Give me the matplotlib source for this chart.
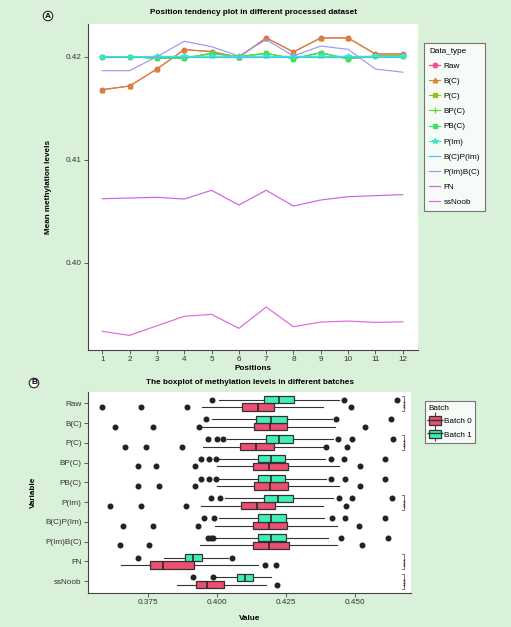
import numpy as np
import matplotlib
matplotlib.use("Agg")
import matplotlib.pyplot as plt
from matplotlib.patches import Patch
from matplotlib.lines import Line2D

# ---------- panel A data ----------
positions = np.arange(1, 13)
series_names = ["Raw", "B(C)", "P(C)", "BP(C)", "PB(C)", "P(Im)",
                "B(C)P(Im)", "P(Im)B(C)", "FN", "ssNoob"]
raw = [0.4168, 0.41715, 0.4188, 0.42068, 0.42049, 0.41994, 0.42182, 0.42046, 0.42182, 0.42182, 0.42026, 0.42026]
b_c = [0.4168, 0.41715, 0.4188, 0.42068, 0.42049, 0.41994, 0.42182, 0.42046, 0.42182, 0.42182, 0.42026, 0.42026]
p_c = [0.4200, 0.4200, 0.41984, 0.41984, 0.42033, 0.4200, 0.42033, 0.41981, 0.42039, 0.41978, 0.42007, 0.42007]
bp_c = [0.4200, 0.4200, 0.41984, 0.41984, 0.42033, 0.4200, 0.42033, 0.41981, 0.42039, 0.41978, 0.42007, 0.42007]
pb_c = [0.4200, 0.4200, 0.41984, 0.41984, 0.42030, 0.4200, 0.42030, 0.41981, 0.42036, 0.41978, 0.42007, 0.42007]
p_im = [0.4200, 0.4200, 0.42002, 0.42003, 0.42004, 0.42002, 0.42004, 0.42002, 0.42003, 0.42002, 0.42003, 0.42003]
bc_pim = [0.4200, 0.4200, 0.4200, 0.4200, 0.4200, 0.4200, 0.4200, 0.4200, 0.4200, 0.4200, 0.4200, 0.4200]
pim_bc = [0.41864, 0.41864, 0.4200, 0.42149, 0.42097, 0.42007, 0.42165, 0.42007, 0.42103, 0.42071, 0.4188, 0.41849]
fn = [0.40621, 0.40628, 0.40635, 0.40618, 0.40703, 0.4056, 0.40703, 0.4055, 0.40609, 0.40641, 0.40651, 0.40661]
ssnoob = [0.39334, 0.39295, 0.39388, 0.3948, 0.39499, 0.39363, 0.3957, 0.39379, 0.39424, 0.39434, 0.39421, 0.39427]
series_vals = [raw, b_c, p_c, bp_c, pb_c, p_im, bc_pim, pim_bc, fn, ssnoob]
series_colors = ["#f0508a", "#d8862a", "#9cbc1c", "#62d83a", "#3ee060", "#3ee8c4",
                 "#3cc8ee", "#9a98ee", "#c866e0", "#e266dc"]
series_markers = ["o", "^", "s", "+", "s", "*", None, None, None, None]

# ---------- panel B data (box statistics) ----------
variables = ["Raw", "B(C)", "P(C)", "BP(C)", "PB(C)", "P(Im)",
             "B(C)P(Im)", "P(Im)B(C)", "FN", "ssNoob"]
# batch 0
b0_whislo = [0.3945, 0.3945, 0.3951, 0.4002, 0.4002, 0.3944, 0.3994, 0.3940, 0.3652, 0.3855]
b0_q1 = [0.4090, 0.4133, 0.4084, 0.4129, 0.4133, 0.4086, 0.4130, 0.4130, 0.3760, 0.3926]
b0_med = [0.4147, 0.4192, 0.4142, 0.4189, 0.4192, 0.4145, 0.4190, 0.4188, 0.3806, 0.3966]
b0_q3 = [0.4207, 0.4253, 0.4207, 0.4259, 0.4259, 0.4212, 0.4255, 0.4260, 0.3919, 0.4027]
b0_whishi = [0.4382, 0.4426, 0.4383, 0.4443, 0.4443, 0.4385, 0.4434, 0.4434, 0.4150, 0.4178]
b0_fliers = [[0.3585, 0.3727, 0.3893, 0.4485],
             [0.3631, 0.3769, 0.3936, 0.4534],
             [0.3667, 0.3745, 0.3875, 0.4396, 0.4471],
             [0.3713, 0.3781, 0.3921, 0.4517],
             [0.3713, 0.3789, 0.3921, 0.4518],
             [0.3614, 0.3726, 0.3889, 0.4468],
             [0.3661, 0.3768, 0.3931, 0.4515],
             [0.3648, 0.3753, 0.4526],
             [0.4174, 0.4213],
             [0.4219]]
# batch 1
b1_whislo = [0.4008, 0.3983, 0.4036, 0.4006, 0.4006, 0.4031, 0.4008, 0.3988, 0.3810, 0.3994]
b1_q1 = [0.4170, 0.4143, 0.4176, 0.4148, 0.4148, 0.4172, 0.4147, 0.4148, 0.3883, 0.4074]
b1_med = [0.4223, 0.4197, 0.4225, 0.4197, 0.4195, 0.4220, 0.4196, 0.4196, 0.3913, 0.4102]
b1_q3 = [0.4280, 0.4253, 0.4277, 0.4248, 0.4248, 0.4277, 0.4249, 0.4250, 0.3948, 0.4132]
b1_whishi = [0.4443, 0.4418, 0.4421, 0.4391, 0.4395, 0.4419, 0.4389, 0.4401, 0.4042, 0.4195]
b1_fliers = [[0.3984, 0.4458, 0.4651],
             [0.3959, 0.4430, 0.4628],
             [0.3969, 0.4002, 0.4021, 0.4439, 0.4490, 0.4638],
             [0.3942, 0.3973, 0.3996, 0.4413, 0.4461, 0.4608],
             [0.3942, 0.3973, 0.3996, 0.4411, 0.4462, 0.4608],
             [0.3977, 0.4010, 0.4443, 0.4490, 0.4635],
             [0.3953, 0.3988, 0.4416, 0.4464, 0.4608],
             [0.3968, 0.3977, 0.3985, 0.4449, 0.4620],
             [0.3713, 0.4054],
             [0.3912, 0.3985]]
signif = ["Raw", "P(C)", "P(Im)", "FN", "ssNoob"]

W, H = 511, 627
bg = "#d9f0d9"
fig = plt.figure(figsize=(W / 100, H / 100), dpi=100, facecolor=bg)
plt.rcParams['font.family'] = ['Liberation Sans', 'DejaVu Sans']
FS = 5.9


def px_axes(l, t, r, b):
    return fig.add_axes([l / W, (H - b) / H, (r - l) / W, (b - t) / H])


def style(ax):
    ax.set_facecolor("white")
    for s in ["top", "right"]:
        ax.spines[s].set_visible(False)
    for s in ["left", "bottom"]:
        ax.spines[s].set_color("#444444")
        ax.spines[s].set_linewidth(0.8)
    ax.tick_params(labelsize=FS, length=3, width=0.6, color="#444444", labelcolor="#333333", pad=1.5)


# ---------- panel A ----------
axA = px_axes(88, 24, 418, 350)
style(axA)
for name, vals, col, mk in zip(series_names, series_vals, series_colors, series_markers):
    ms = 3.3 if mk not in ("+", "*") else 4.3
    axA.plot(positions, vals, color=col, lw=0.85, marker=mk, markersize=ms,
             markeredgewidth=0.9, label=name)
axA.set_xlim(0.476, 12.56)
axA.set_ylim(0.39153, 0.42317)
axA.set_xticks(positions)
axA.set_yticks([0.40, 0.41, 0.42])
axA.set_yticklabels(["0.40", "0.41", "0.42"])
axA.set_xlabel("Positions", fontsize=FS, fontweight="bold", labelpad=1)
axA.set_ylabel("Mean methylation levels", fontsize=FS, fontweight="bold", labelpad=10)
axA.set_title("Position tendency plot in different processed dataset",
              fontsize=FS, fontweight="bold", pad=7)
legA = axA.legend(title="Data_type", loc="upper left", bbox_to_anchor=(424 / W, 1 - 43 / H),
                  bbox_transform=fig.transFigure, fontsize=FS, title_fontsize=FS,
                  frameon=True, fancybox=False, edgecolor="#555555", handlelength=1.4,
                  labelspacing=0.9, borderpad=0.6, handletextpad=0.4, borderaxespad=0)
legA._legend_box.align = "left"
legA.get_frame().set_linewidth(0.8)

# ---------- panel B ----------
axB = px_axes(88, 392, 411, 593)
style(axB)
ypos = np.arange(len(variables))
c0, c1 = "#ec4f72", "#3ff0b4"


def stats_list(wl, q1, med, q3, wh, fl):
    return [dict(whislo=a, q1=b, med=c, q3=d, whishi=e, fliers=f)
            for a, b, c, d, e, f in zip(wl, q1, med, q3, wh, fl)]


for st, off, col in [(stats_list(b0_whislo, b0_q1, b0_med, b0_q3, b0_whishi, b0_fliers), 0.19, c0),
                     (stats_list(b1_whislo, b1_q1, b1_med, b1_q3, b1_whishi, b1_fliers), -0.19, c1)]:
    axB.bxp(st, positions=ypos + off, widths=0.36, orientation="horizontal",
            patch_artist=True, showcaps=False,
            boxprops=dict(facecolor=col, edgecolor="#333333", linewidth=0.9),
            medianprops=dict(color="#222222", linewidth=1.1),
            whiskerprops=dict(color="#333333", linewidth=0.8),
            flierprops=dict(marker="o", markerfacecolor="#222222", markeredgecolor="#222222",
                            markersize=3.3))

axB.set_xlim(0.3534, 0.4702)
axB.set_ylim(9.607, -0.571)
axB.set_yticks(ypos)
axB.set_yticklabels(variables)
axB.set_xticks([0.375, 0.400, 0.425, 0.450])
axB.set_xticklabels(["0.375", "0.400", "0.425", "0.450"])
axB.set_xlabel("Value", fontsize=FS, fontweight="bold", labelpad=6)
axB.set_ylabel("Variable", fontsize=FS, fontweight="bold", labelpad=6)
axB.set_title("The boxplot of methylation levels in different batches",
              fontsize=FS, fontweight="bold", pad=6)

# significance brackets
for v in signif:
    i = variables.index(v)
    y0, y1 = i - 0.38, i + 0.38
    axB.plot([0.4668, 0.4677, 0.4677, 0.4668], [y0, y0, y1, y1], color="#777777", lw=0.7)
    axB.text(0.4688, i, "***", rotation=90, ha="center", va="center", fontsize=5.5, color="#333333")


def box_key(col):
    whisk = Line2D([], [], ls="none", marker="|", markersize=11, markeredgewidth=0.8,
                   color="#444444")
    box = Patch(facecolor=col, edgecolor="#333333", linewidth=0.9)
    med = Line2D([], [], ls="none", marker="_", markersize=11, markeredgewidth=1.0,
                 color="#333333")
    return (whisk, box, med)


legB = axB.legend(handles=[box_key(c0), box_key(c1)], labels=["Batch 0", "Batch 1"],
                  title="Batch", loc="upper left", bbox_to_anchor=(424.7 / W, 1 - 401 / H),
                  bbox_transform=fig.transFigure, fontsize=FS, title_fontsize=FS,
                  frameon=True, fancybox=False, edgecolor="#555555", handlelength=1.5,
                  handleheight=1.3, borderpad=0.5, handletextpad=0.3, borderaxespad=0,
                  labelspacing=0.5)
legB._legend_box.align = "left"
legB.get_frame().set_linewidth(0.8)

# panel letters
for x, y, s in [(48, 16, "A"), (34, 383, "B")]:
    fig.text(x / W, 1 - y / H, s, fontsize=6, fontweight="bold", ha="center", va="center",
             bbox=dict(boxstyle="circle,pad=0.15", facecolor="white", edgecolor="#222222", lw=0.8))

fig.savefig("out.png", dpi=100, facecolor=bg)
